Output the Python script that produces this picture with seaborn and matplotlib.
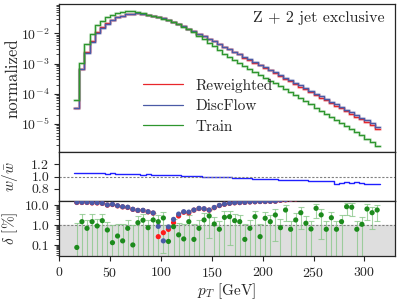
import numpy as np
import pandas as pd
import matplotlib
matplotlib.use("Agg")
import matplotlib.pyplot as plt
from matplotlib.ticker import FixedLocator, FuncFormatter, NullFormatter, LogLocator
import seaborn as sns

# ---------------- data ----------------
bin_lo = 15.0      # GeV, first bin edge
bin_width = 5.0    # GeV
n_bins = 60

reweighted = [3.41e-5, 6.81e-4, 2.33e-3, 5.41e-3, 1.08e-2, 1.58e-2, 2.15e-2, 2.71e-2, 3.41e-2, 3.69e-2,
              4.30e-2, 4.47e-2, 4.64e-2, 4.30e-2, 3.98e-2, 3.69e-2, 3.41e-2, 3.16e-2, 2.71e-2, 2.33e-2,
              2.07e-2, 1.71e-2, 1.41e-2, 1.17e-2, 9.62e-3, 7.94e-3, 6.31e-3, 5.41e-3, 4.30e-3, 3.55e-3,
              2.93e-3, 2.42e-3, 2.00e-3, 1.58e-3, 1.36e-3, 1.08e-3, 8.91e-4, 7.36e-4, 6.07e-4, 5.01e-4,
              3.98e-4, 3.16e-4, 2.61e-4, 2.07e-4, 1.71e-4, 1.41e-4, 1.12e-4, 9.26e-5, 7.36e-5, 6.07e-5,
              4.82e-5, 3.98e-5, 3.29e-5, 2.61e-5, 2.15e-5, 1.71e-5, 1.41e-5, 1.12e-5, 8.91e-6, 6.81e-6]
discflow = [3.30e-5, 6.60e-4, 2.25e-3, 5.30e-3, 1.06e-2, 1.56e-2, 2.13e-2, 2.70e-2, 3.40e-2, 3.68e-2,
            4.32e-2, 4.45e-2, 4.63e-2, 4.31e-2, 4.00e-2, 3.68e-2, 3.42e-2, 3.17e-2, 2.72e-2, 2.34e-2,
            2.08e-2, 1.72e-2, 1.42e-2, 1.18e-2, 9.65e-3, 8.00e-3, 6.40e-3, 5.45e-3, 4.35e-3, 3.60e-3,
            2.97e-3, 2.46e-3, 2.04e-3, 1.61e-3, 1.39e-3, 1.11e-3, 9.12e-4, 7.55e-4, 6.25e-4, 5.15e-4,
            4.30e-4, 3.41e-4, 2.87e-4, 2.24e-4, 1.88e-4, 1.52e-4, 1.23e-4, 1.00e-4, 8.10e-5, 6.68e-5,
            5.40e-5, 4.38e-5, 3.68e-5, 2.92e-5, 2.41e-5, 1.95e-5, 1.58e-5, 1.29e-5, 1.02e-5, 7.97e-6]
train = [6.31e-5, 1.08e-3, 4.30e-3, 9.26e-3, 1.85e-2, 2.51e-2, 3.41e-2, 3.98e-2, 4.64e-2, 5.01e-2,
         5.41e-2, 5.53e-2, 5.20e-2, 4.64e-2, 3.98e-2, 3.69e-2, 3.41e-2, 3.04e-2, 2.71e-2, 2.33e-2,
         2.00e-2, 1.65e-2, 1.36e-2, 1.08e-2, 8.25e-3, 6.31e-3, 4.82e-3, 3.69e-3, 2.82e-3, 2.15e-3,
         1.71e-3, 1.36e-3, 1.04e-3, 8.25e-4, 6.56e-4, 5.21e-4, 4.14e-4, 3.41e-4, 2.71e-4, 2.24e-4,
         1.85e-4, 1.47e-4, 1.17e-4, 8.91e-5, 7.08e-5, 5.62e-5, 4.47e-5, 3.41e-5, 2.71e-5, 2.15e-5,
         1.71e-5, 1.36e-5, 1.04e-5, 8.25e-6, 6.56e-6, 5.21e-6, 4.14e-6, 3.16e-6, 2.42e-6, 1.85e-6]

ratio = [1.05, 1.06, 1.06, 1.055, 1.05, 1.05, 1.045, 1.05, 1.045, 1.04,
         1.04, 1.035, 1.035, 1.03, 1.035, 1.03, 1.03, 1.025, 1.03, 1.02,
         1.02, 1.015, 1.01, 1.01, 1.005, 1.0, 1.0, 0.995, 0.99, 0.99,
         0.985, 0.98, 0.975, 0.975, 0.97, 0.965, 0.965, 0.96, 0.955, 0.955,
         0.95, 0.945, 0.945, 0.94, 0.935, 0.935, 0.93, 0.925, 0.93, 0.92,
         0.92, 0.87, 0.90, 0.91, 0.90, 0.905, 0.90, 0.88, 0.88, 0.885]

delta_reweighted = [13.3, 13.3, 13.3, 12.6, 12.6, 12.0, 9.8, 10.5, 9.0, 8.0,
                    7.5, 6.0, 5.3, 5.3, 4.5, 3.9, 0.26, 0.41, 0.60, 1.3,
                    2.8, 4.3, 4.0, 5.5, 6.6, 6.3, 5.5, 7.3, 9.3, 10.8,
                    12.0, 12.8, 13.1, 13.4, 14.1, 14.4, 14.8, 14.8, 15.1, 15.3,
                    17.0, 18.0, 19.0, 20.0, 21.0, 22.0, 23.0, 24.0, 25.0, 26.0,
                    27.0, 28.0, 29.0, 30.0, 31.0, 32.0, 33.0, 34.0, 35.0, 36.0]
delta_discflow = [13.6, 13.6, 13.6, 13.0, 13.0, 12.2, 10.0, 10.8, 9.2, 8.2,
                  7.7, 6.1, 5.4, 5.4, 4.6, 4.0, 0.85, 0.16, 0.80, 1.9,
                  3.5, 4.6, 4.4, 5.6, 6.8, 6.5, 5.6, 7.5, 9.5, 11.0,
                  12.2, 13.0, 13.3, 13.6, 14.3, 14.6, 15.0, 15.0, 15.3, 15.5,
                  17.5, 18.5, 19.5, 20.5, 21.5, 22.5, 23.5, 24.5, 25.5, 26.5,
                  27.5, 28.5, 29.5, 30.5, 31.5, 32.5, 33.5, 34.5, 35.5, 36.5]
delta_train = [0.075, 1.46, 0.68, 1.46, 0.89, 1.64, 0.56, 0.13, 0.28, 0.16,
               0.68, 0.10, 1.30, 1.72, 0.73, 1.78, 1.46, 2.24, 0.15, 0.82,
               0.32, 0.20, 1.46, 0.19, 0.68, 1.78, 2.82, 1.12, 0.61, 2.40,
               2.60, 1.64, 1.46, 0.19, 0.68, 2.60, 0.26, 2.16, 1.46, 3.16,
               0.73, 5.60, 0.61, 1.78, 4.10, 1.22, 0.63, 6.80, 3.20, 0.61,
               2.30, 0.61, 1.46, 8.20, 7.70, 0.61, 1.08, 6.30, 4.10, 5.60]
delta_train_err = [1.2, 2.0, 1.0, 2.0, 1.2, 1.8, 0.9, 0.9, 0.8, 0.9,
                   1.0, 0.9, 1.6, 1.8, 1.1, 2.0, 1.8, 2.2, 0.9, 1.2,
                   0.9, 0.9, 1.8, 0.9, 1.1, 2.0, 2.6, 1.5, 1.0, 2.4,
                   2.5, 2.0, 1.8, 0.9, 1.1, 2.6, 0.9, 2.4, 1.8, 3.0,
                   1.2, 4.0, 1.0, 2.0, 3.5, 1.6, 1.0, 4.5, 3.0, 1.0,
                   2.4, 1.0, 1.8, 5.0, 5.0, 1.0, 1.5, 4.5, 3.5, 4.0]

legend_labels = ["Reweighted", "DiscFlow", "Train"]
annotation = "Z + 2 jet exclusive"
x_label = r"$p_{T}$ [GeV]"
x_ticks = [0, 50, 100, 150, 200, 250, 300]

# ---------------- style ----------------
sns.set_style("ticks")
plt.rcParams["font.family"] = ["cmr10", "DejaVu Serif"]
plt.rcParams["mathtext.fontset"] = "cm"
plt.rcParams["axes.unicode_minus"] = False
plt.rcParams["axes.formatter.use_mathtext"] = True

c_red = "#e8262b"
c_blue = "#4a5aa6"
c_green = "#2e962e"
c_gdot = "#1c8a1c"

edges = bin_lo + bin_width * np.arange(n_bins + 1)
centers = 0.5 * (edges[:-1] + edges[1:])

def stepframe(vals):
    v = np.asarray(vals, dtype=float)
    return pd.DataFrame({"x": edges, "y": np.append(v, v[-1])})

fig = plt.figure(figsize=(4.11, 3.04), dpi=100)
L, W = 59 / 411, 336 / 411
def ypos(top_px, bot_px):
    return [L, 1 - bot_px / 304, W, (bot_px - top_px) / 304]

ax1 = fig.add_axes(ypos(4, 152))
ax2 = fig.add_axes(ypos(152, 201), sharex=ax1)
ax3 = fig.add_axes(ypos(201, 256), sharex=ax1)

# ---- top panel ----
for vals, col, lab in [(reweighted, c_red, legend_labels[0]),
                       (discflow, c_blue, legend_labels[1]),
                       (train, c_green, legend_labels[2])]:
    df = stepframe(vals)
    sns.lineplot(data=df, x="x", y="y", ax=ax1, drawstyle="steps-post",
                 color=col, lw=2.2, alpha=0.25, legend=False)
    sns.lineplot(data=df, x="x", y="y", ax=ax1, drawstyle="steps-post",
                 color=col, lw=0.9, label=lab)
ax1.set_yscale("log")
ax1.set_ylim(1.15e-6, 0.095)
ax1.set_xlim(0, 330)
ax1.set_ylabel("normalized", fontsize=12)
ax1.set_xlabel("")
ax1.tick_params(labelbottom=False, labelsize=10)
ax1.yaxis.set_major_locator(LogLocator(base=10, numticks=10))
ax1.text(0.97, 0.905, annotation, transform=ax1.transAxes, ha="right", va="center", fontsize=11.5)
leg = ax1.legend(loc="center left", bbox_to_anchor=(0.21, 0.31), frameon=False,
                 fontsize=11, handlelength=2.6, labelspacing=0.45)

# ---- middle panel ----
sns.lineplot(data=stepframe(ratio), x="x", y="y", ax=ax2, drawstyle="steps-post",
             color="#1f1fff", lw=1.0)
ax2.axhline(1.0, color="gray", ls=(0, (2, 1.5)), lw=0.8)
ax2.set_ylim(0.6, 1.4)
ax2.yaxis.set_major_locator(FixedLocator([0.8, 1.0, 1.2]))
ax2.yaxis.set_major_formatter(FuncFormatter(lambda v, p: f"{v:.1f}"))
ax2.set_ylabel(r"$w/\bar{w}$", fontsize=11)
ax2.set_xlabel("")
ax2.tick_params(labelbottom=False, labelsize=10)

# ---- bottom panel ----
ax3.set_yscale("log")
ax3.set_ylim(0.028, 15.8)
ax3.axhspan(0.028, 1.0, color="#dedede", zorder=0)
ax3.axhline(1.0, color="gray", ls=(0, (2, 1.5)), lw=0.8, zorder=1)
ax3.errorbar(centers, delta_train, yerr=delta_train_err, fmt="none",
             ecolor="#8cc88c", elinewidth=0.8, capsize=2, capthick=0.8, alpha=0.8, zorder=2)
pts = pd.DataFrame({"x": np.concatenate([centers, centers, centers]),
                    "y": delta_reweighted + delta_discflow + delta_train,
                    "s": [legend_labels[0]] * n_bins + [legend_labels[1]] * n_bins + [legend_labels[2]] * n_bins})
sns.scatterplot(data=pts, x="x", y="y", hue="s", ax=ax3, s=14, linewidth=0,
                palette={legend_labels[0]: "#ff1a1a", legend_labels[1]: c_blue, legend_labels[2]: c_gdot},
                legend=False, zorder=3)
ax3.yaxis.set_major_locator(FixedLocator([0.1, 1.0, 10.0]))
ax3.yaxis.set_major_formatter(FuncFormatter(lambda v, p: f"{v:.1f}"))
ax3.yaxis.set_minor_formatter(NullFormatter())
ax3.set_ylabel(r"$\delta$ [%]", fontsize=11)
ax3.set_xticks(x_ticks)
ax3.set_xlabel(x_label, fontsize=11, labelpad=1)
ax3.tick_params(labelsize=10)

for a in (ax1, ax2, ax3):
    a.yaxis.set_label_coords(-0.115, 0.5)
    for sp in a.spines.values():
        sp.set_linewidth(0.9)

fig.savefig("out.png", dpi=100)
